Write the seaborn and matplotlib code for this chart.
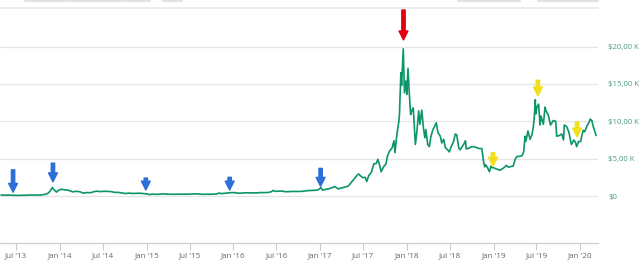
import numpy as np
import pandas as pd
import matplotlib
matplotlib.use("Agg")
import matplotlib.pyplot as plt
import seaborn as sns

# ---------------- data ----------------
dates = [
 "2013-04-28","2013-05-15","2013-06-01","2013-06-20","2013-07-05","2013-07-20","2013-08-10","2013-09-01","2013-09-20","2013-10-10","2013-10-25","2013-11-10","2013-11-20","2013-11-30","2013-12-07","2013-12-18","2013-12-26",
 "2014-01-06","2014-01-20","2014-02-05","2014-02-25","2014-03-10","2014-03-25","2014-04-10","2014-04-25","2014-05-10","2014-05-25","2014-06-05","2014-06-20","2014-07-05","2014-07-20","2014-08-05","2014-08-20","2014-09-05","2014-09-20","2014-10-05","2014-10-20","2014-11-05","2014-11-20","2014-12-05","2014-12-20",
 "2015-01-05","2015-01-14","2015-01-25","2015-02-10","2015-02-25","2015-03-10","2015-03-25","2015-04-10","2015-04-25","2015-05-10","2015-05-25","2015-06-10","2015-06-25","2015-07-10","2015-07-25","2015-08-10","2015-08-25","2015-09-10","2015-09-25","2015-10-10","2015-10-25","2015-11-04","2015-11-12","2015-11-25","2015-12-10","2015-12-25",
 "2016-01-10","2016-01-18","2016-02-01","2016-02-20","2016-03-10","2016-03-25","2016-04-10","2016-04-25","2016-05-10","2016-05-27","2016-06-10","2016-06-18","2016-06-25","2016-07-10","2016-07-25","2016-08-05","2016-08-20","2016-09-05","2016-09-20","2016-10-05","2016-10-20","2016-11-05","2016-11-20","2016-12-05","2016-12-20","2016-12-30",
 "2017-01-04","2017-01-12","2017-01-25","2017-02-10","2017-02-25","2017-03-03","2017-03-18","2017-03-31","2017-04-15","2017-04-30","2017-05-10","2017-05-25","2017-06-06","2017-06-12","2017-06-20","2017-06-30","2017-07-10","2017-07-16","2017-07-25","2017-08-05","2017-08-15","2017-08-25","2017-09-01","2017-09-08","2017-09-15","2017-09-25","2017-10-05","2017-10-12","2017-10-20","2017-10-31","2017-11-08","2017-11-12","2017-11-20","2017-11-28","2017-12-01","2017-12-07","2017-12-10","2017-12-17","2017-12-22","2017-12-28",
 "2018-01-01","2018-01-06","2018-01-10","2018-01-17","2018-01-22","2018-01-28","2018-02-02","2018-02-06","2018-02-12","2018-02-20","2018-02-25","2018-03-05","2018-03-12","2018-03-18","2018-03-22","2018-03-30","2018-04-06","2018-04-12","2018-04-20","2018-04-29","2018-05-05","2018-05-12","2018-05-22","2018-05-28","2018-06-05","2018-06-12","2018-06-24","2018-06-29","2018-07-08","2018-07-17","2018-07-24","2018-07-30","2018-08-08","2018-08-14","2018-08-20","2018-08-30","2018-09-05","2018-09-08","2018-09-20","2018-10-01","2018-10-10","2018-10-20","2018-11-01","2018-11-13","2018-11-16","2018-11-20","2018-11-25","2018-11-28","2018-12-05","2018-12-15","2018-12-21","2018-12-25",
 "2019-01-01","2019-01-10","2019-01-20","2019-01-28","2019-02-08","2019-02-18","2019-02-24","2019-03-05","2019-03-15","2019-03-25","2019-04-02","2019-04-10","2019-04-20","2019-05-01","2019-05-08","2019-05-14","2019-05-17","2019-05-26","2019-06-04","2019-06-12","2019-06-18","2019-06-22","2019-06-26","2019-06-28","2019-07-03","2019-07-10","2019-07-16","2019-07-20","2019-07-30","2019-08-06","2019-08-10","2019-08-20","2019-08-29","2019-09-10","2019-09-20","2019-09-24","2019-10-05","2019-10-15","2019-10-23","2019-10-26","2019-11-05","2019-11-15","2019-11-22","2019-11-25","2019-12-05","2019-12-12","2019-12-17","2019-12-25",
 "2020-01-03","2020-01-08","2020-01-14","2020-01-20","2020-01-30","2020-02-08","2020-02-12","2020-02-19","2020-02-25","2020-03-02","2020-03-08",
]
prices = [
 135,115,125,105,75,95,105,135,125,130,185,320,600,1130,850,520,750,
 900,830,780,550,630,580,380,460,440,580,650,590,630,620,590,480,480,400,330,385,340,360,370,325,
 275,180,255,220,240,290,250,235,225,240,238,230,245,270,290,265,215,240,235,245,285,400,320,365,415,455,
 450,380,375,435,415,420,420,460,455,470,580,760,620,650,655,580,580,610,610,610,630,710,730,760,790,960,
 1130,780,900,990,1170,1270,950,1080,1180,1350,1750,2300,2800,2950,2700,2450,2500,1930,2750,3200,4300,4350,4900,4200,3250,3900,4300,5400,6000,6450,7400,5800,8200,9900,10900,16500,14800,19700,13800,15400,
 13600,17100,14500,10900,11400,11800,9000,6900,8500,11400,9600,11500,9100,7800,8900,6900,6600,7900,8800,9400,9800,8500,8000,7100,7600,6500,6100,5900,6700,7300,8300,8200,6400,6200,6500,7000,7400,6300,6400,6600,6600,6500,6350,6350,5600,4600,3900,4200,3900,3250,4000,3800,
 3800,3650,3550,3450,3650,3900,4100,3850,3950,4000,4900,5300,5300,5400,5900,8000,7300,8700,7600,8200,9300,10700,12900,11000,11900,12300,9500,10700,9600,11900,11400,10800,9500,10100,10000,8000,8100,8300,7500,9500,9300,8500,7300,6900,7500,7200,6600,7300,
 7300,8100,8800,8600,9400,9900,10300,10100,9300,8700,8100,
]

y_ticks = [0, 5000, 10000, 15000, 20000]
y_tick_labels = ["$0", "$5,00 K", "$10,00 K", "$15,00 K", "$20,00 K"]
x_tick_dates = ["2013-07-01","2014-01-01","2014-07-01","2015-01-01","2015-07-01","2016-01-01",
                "2016-07-01","2017-01-01","2017-07-01","2018-01-01","2018-07-01","2019-01-01",
                "2019-07-01","2020-01-01"]
x_tick_labels = ["Jul '13","Jan '14","Jul '14","Jan '15","Jul '15","Jan '16","Jul '16",
                 "Jan '17","Jul '17","Jan '18","Jul '18","Jan '19","Jul '19","Jan '20"]

arrow_dates = ["2013-06-18","2013-12-03","2014-12-29","2015-12-17","2017-01-03",
               "2017-12-18","2018-12-30","2019-07-07","2019-12-19"]
arrow_top = [3500, 4400, 2400, 2500, 3700, 24900, 5800, 15500, 9900]
arrow_tip = [500, 1900, 800, 800, 1300, 20900, 4000, 13400, 7900]
arrow_colors = ["blue","blue","blue","blue","blue","red","yellow","yellow","yellow"]

# ---------------- plot ----------------
sns.set_theme(style="white")
plt.rcParams["font.family"] = ["Open Sans", "DejaVu Sans"]
df = pd.DataFrame({"date": pd.to_datetime(dates), "price": prices})

W, H = 640, 262
fig = plt.figure(figsize=(W/100, H/100), dpi=100)
ax_left, ax_right = 0, 598
ax_top, ax_bottom = 5, 243
ax = fig.add_axes([ax_left/W, 1-ax_bottom/H, (ax_right-ax_left)/W, (ax_bottom-ax_top)/H])

sns.lineplot(data=df, x="date", y="price", ax=ax, color="#0c946a", linewidth=1.2)

ax.set_xlim(pd.Timestamp("2013-04-24"), pd.Timestamp("2020-03-16"))
ymax = (196-ax_top)/7.47*1000
ymin = (196-ax_bottom)/7.47*1000
ax.set_ylim(ymin, ymax)

for v in y_ticks:
    ax.axhline(v, color="#e6e6e6", linewidth=0.9, zorder=0)

ax.yaxis.tick_right()
ax.set_yticks(y_ticks)
ax.set_yticklabels(y_tick_labels)
ax.tick_params(axis="y", length=0, pad=7.5, labelsize=5.6, labelcolor="#4a9d84")

ax.set_xticks(pd.to_datetime(x_tick_dates))
ax.set_xticklabels(x_tick_labels)
ax.tick_params(axis="x", length=5, width=0.8, color="#cccccc", pad=1.5,
               labelsize=5.8, labelcolor="#666666", bottom=True)

for s in ["top", "left", "right"]:
    ax.spines[s].set_visible(False)
ax.spines["bottom"].set_color("#cccccc")
ax.spines["bottom"].set_linewidth(0.9)
ax.set_xlabel("")
ax.set_ylabel("")

cmap = {"blue": "#2b6fd8", "red": "#e3000f", "yellow": "#f2e01c"}
for d, t0, t1, c in zip(arrow_dates, arrow_top, arrow_tip, arrow_colors):
    ax.annotate("", xy=(pd.Timestamp(d), t1), xytext=(pd.Timestamp(d), t0),
                arrowprops=dict(arrowstyle="simple,head_width=0.8,head_length=0.8,tail_width=0.3",
                                color=cmap[c], mutation_scale=8, shrinkA=0, shrinkB=0),
                zorder=5)

# top toolbar separator and button remnants
fig.add_artist(plt.Line2D([0, 598/W], [1-7.5/H, 1-7.5/H], color="#e9e9e9", linewidth=1.2))
for x0, x1 in [(25, 70), (72, 120), (122, 150), (163, 182), (458, 520), (538, 598)]:
    fig.add_artist(plt.Line2D([x0/W, x1/W], [1-0.8/H, 1-0.8/H], color="#e2e2e2", linewidth=1.5))

fig.savefig("out.png", dpi=100)
